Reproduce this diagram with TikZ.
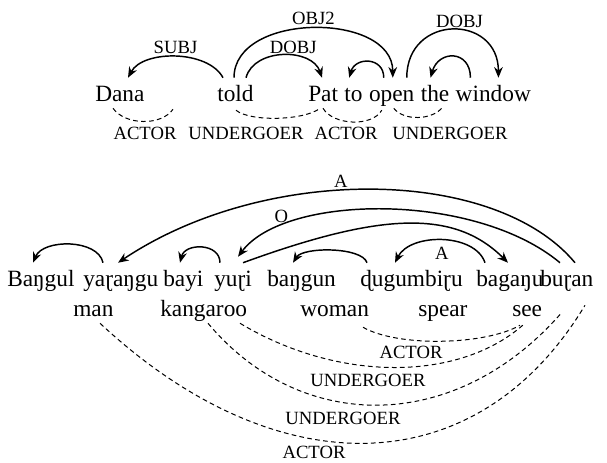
\documentclass[tikz,border=0pt]{standalone}
\usepackage{fontspec}
\setmainfont{Liberation Serif}
\usetikzlibrary{arrows.meta,positioning}

\begin{document}
\begin{tikzpicture}[x=0.75pt,y=-0.75pt,
word/.style={inner xsep=0pt,inner ysep=5.25pt,text height=12.75pt,text depth=3.75pt,
  anchor=base west,font=\fontsize{17.5}{20}\selectfont},
role/.style={inner sep=1pt,font=\fontsize{14}{16}\selectfont},
dep/.style={line width=1.1pt,-{Stealth[length=8pt,width=6.5pt]}},
link/.style={line width=0.75pt,dash pattern=on 3.5pt off 2.5pt}]
\useasboundingbox (0,0) rectangle (607,463);

% english sentence
\node[word] (Dana) at (95,102) {Dana};
\node[word] (told) at (217,102) {told};
\node[word] (Pat) at (308,102) {Pat};
\node[word, right=4.4pt of Pat] (to) {to};
\node[word, right=4.4pt of to] (open) {open};
\node[word, right=4.4pt of open] (the) {the};
\node[word, right=4.4pt of the] (window) {window};

\draw[dep] ([shift={(6,0)}]told.north west) .. controls +(-15,-28) and +(15,-28) ..
  ([shift={(33,0)}]Dana.north west) node[role,pos=.5,above=1pt] (subj) {SUBJ};
\draw[dep] ([shift={(17,0)}]told.north west) .. controls +(0,-66) and +(0,-66) ..
  ([shift={(24,0)}]open.north west) node[role,pos=.5,above=1pt] (obj2) {OBJ2};
\draw[dep] ([shift={(29,0)}]told.north west) .. controls +(8,-30) and +(-10,-30) ..
  ([shift={(14,0)}]Pat.north west) node[role,pos=.6,above] (dobj1) {DOBJ};
\draw[dep] ([shift={(15,0)}]open.north west) .. controls +(0,-21) and +(6,-21) ..
  ([shift={(5,0)}]to.north west);
\draw[dep] ([shift={(38,0)}]open.north west) .. controls +(0,-64) and +(0,-64) ..
  ([shift={(43,0)}]window.north west) node[role,pos=.55,above] (dobj2) {DOBJ};
\draw[dep] ([shift={(15,0)}]window.north west) .. controls +(0,-28) and +(8,-28) ..
  ([shift={(10,0)}]the.north west);

\draw[link] ([shift={(18,-6)}]Dana.south west) .. controls +(12,17) and +(-12,17) .. ([shift={(78,-5)}]Dana.south west);
\draw[link] ([shift={(19,-4)}]told.south west) .. controls +(15,12) and +(-15,12) .. ([shift={(12,-6)}]Pat.south west);
\draw[link] ([shift={(15,-6)}]Pat.south west) .. controls +(10,17) and +(-10,17) .. ([shift={(13,-4)}]open.south west);
\draw[link] ([shift={(25,-6)}]open.south west) .. controls +(10,13) and +(-10,13) .. ([shift={(22,-7)}]the.south west);

\foreach \r/\x [count=\i] in {ACTOR/145,UNDERGOER/246,ACTOR/346,UNDERGOER/450}
  \node[role] (top\i) at (\x,133) {\r};

% dyirbal sentence
\foreach \w/\x/\t in {Bangul/7/Baŋgul,yarangu/83/yaɽaŋgu,bayi/163/bayi,yuri/214/yuɽi,
  bangun/267/baŋgun,dugumbiru/360/ɖugumbiɽu,bagangu/476/bagaŋu,buran/540/buɽan}
  \node[word] (\w) at (\x,287) {\t};
\foreach \w/\x in {man/73,kangaroo/160,woman/300,spear/418,see/512}
  \node[word] (\w) at (\x,317) {\w};

\draw[dep] ([shift={(20,0)}]yarangu.north west) .. controls +(-5,-24) and +(10,-24) ..
  ([shift={(26,0)}]Bangul.north west);
\draw[dep] ([shift={(35,0)}]buran.north west) .. controls +(-80,-96) and +(148,-99) ..
  ([shift={(35,0)}]yarangu.north west) node[role,pos=.56,above=1pt] (a1) {A};
\draw[dep] ([shift={(20,0)}]buran.north west) .. controls +(-85,-71) and +(47,-63) ..
  ([shift={(24,-6)}]yuri.north west) node[role,pos=.8,above=1pt] (o1) {O};
\draw[dep] ([shift={(29,0)}]yuri.north west) .. controls +(137,-50) and +(-54,-54) ..
  ([shift={(32,0)}]bagangu.north west);
\draw[dep] ([shift={(6,0)}]yuri.north west) .. controls +(0,-20) and +(5,-20) ..
  ([shift={(17,0)}]bayi.north west);
\draw[dep] ([shift={(7,0)}]dugumbiru.north west) .. controls +(-5,-16) and +(10,-16) ..
  ([shift={(26,0)}]bangun.north west);
\draw[dep] ([shift={(9,0)}]bagangu.north west) .. controls +(-10,-30) and +(15,-30) ..
  ([shift={(35,0)}]dugumbiru.north west) node[role,pos=.5,below=4pt] (a2) {A};

\draw[link] ([shift={(63,-2)}]woman.south west) .. controls +(35,20) and +(-35,20) .. ([shift={(8,-4)}]see.south west);
\draw[link] ([shift={(80,-6)}]kangaroo.south west) .. controls +(98,59) and +(-65,59) .. ([shift={(13,-6)}]see.south west);
\draw[link] ([shift={(48,-6)}]kangaroo.south west) .. controls +(93,111) and +(-106,122) .. ([shift={(22,13)}]buran.south west);
\draw[link] ([shift={(27,-6)}]man.south west) .. controls +(175,163) and +(-109,181) .. ([shift={(45,6)}]buran.south west);

\foreach \r/\x/\y [count=\i] in {ACTOR/411/352,UNDERGOER/368/380,UNDERGOER/343/418,ACTOR/314/452}
  \node[role] (bot\i) at (\x,\y) {\r};
\end{tikzpicture}
\end{document}
